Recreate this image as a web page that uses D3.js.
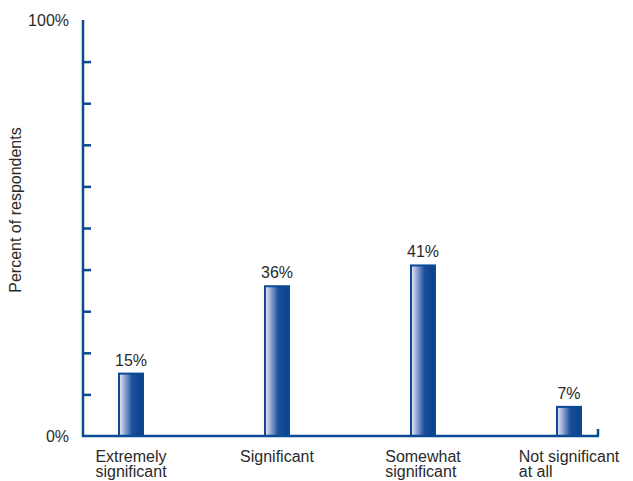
<!DOCTYPE html>
<html>
<head>
<meta charset="utf-8">
<script src="https://cdn.jsdelivr.net/npm/d3@7"></script>
<style>
  html, body { margin: 0; padding: 0; background: #fff; }
  svg { display: block; font-family: "Liberation Sans", Arial, sans-serif; }
</style>
</head>
<body>
<svg id="chart" width="633" height="481"></svg>
<script>
const categories = ["Extremely significant", "Significant", "Somewhat significant", "Not significant at all"];
const categoryLines = [["Extremely", "significant"], ["Significant"], ["Somewhat", "significant"], ["Not significant", "at all"]];
const values = [15, 36, 41, 7];
const yTicks = [0, 10, 20, 30, 40, 50, 60, 70, 80, 90, 100];
const yTickLabels = { 0: "0%", 100: "100%" };

const svg = d3.select("#chart");
const W = 633;
const axisColor = "#0b4a94";
const textColor = "#2a2a2a";

const x = d3.scaleBand().domain(categories).range([58, 642]).padding(0);
const y = d3.scaleLinear().domain([0, 100]).range([436, 20]);
const axisX = 83, axisRight = 598, barW = 25;

// gradient
const defs = svg.append("defs");
const grad = defs.append("linearGradient").attr("id", "barGrad")
  .attr("x1", "0%").attr("x2", "100%").attr("y1", "0%").attr("y2", "0%");
grad.append("stop").attr("offset", "0%").attr("stop-color", "#eceef8");
grad.append("stop").attr("offset", "15%").attr("stop-color", "#b9c0e0");
grad.append("stop").attr("offset", "55%").attr("stop-color", "#1a4f9a");
grad.append("stop").attr("offset", "100%").attr("stop-color", "#0b3f8c");

// y axis
const yAxis = d3.axisRight(y).tickValues(yTicks).tickSize(8).tickFormat("");
const gy = svg.append("g").attr("transform", `translate(${axisX},0)`).call(yAxis);
gy.select(".domain").remove();
gy.selectAll(".tick line").attr("stroke", axisColor).attr("stroke-width", 2.5)
  .filter(d => d === 0 || d === 100).remove();
svg.append("line").attr("x1", axisX).attr("x2", axisX).attr("y1", y(100)).attr("y2", y(0) + 1)
  .attr("stroke", axisColor).attr("stroke-width", 2.5);

// y tick labels
svg.selectAll(".ylab").data(Object.keys(yTickLabels).map(Number)).enter().append("text")
  .attr("x", 69).attr("y", d => y(d) + 6)
  .attr("text-anchor", "end").attr("font-size", 16).attr("fill", textColor)
  .text(d => yTickLabels[d]);

// y title
svg.append("text").attr("transform", `translate(21,210) rotate(-90)`)
  .attr("text-anchor", "middle").attr("font-size", 16).attr("fill", textColor)
  .text("Percent of respondents");

// bars
svg.selectAll(".bar").data(values).enter().append("rect")
  .attr("x", (d, i) => x(categories[i]) + x.bandwidth() / 2 - barW / 2 + 0.5)
  .attr("y", d => y(d))
  .attr("width", barW - 1)
  .attr("height", d => y(0) - y(d))
  .attr("fill", "url(#barGrad)")
  .attr("stroke", axisColor).attr("stroke-width", 2);

// x axis
svg.append("line").attr("x1", axisX - 1).attr("x2", axisRight + 1).attr("y1", y(0)).attr("y2", y(0))
  .attr("stroke", axisColor).attr("stroke-width", 2.5);
svg.append("line").attr("x1", axisRight).attr("x2", axisRight).attr("y1", y(0)).attr("y2", y(0) - 7)
  .attr("stroke", axisColor).attr("stroke-width", 2.5);

// value labels
svg.selectAll(".vlab").data(values).enter().append("text")
  .attr("x", (d, i) => x(categories[i]) + x.bandwidth() / 2)
  .attr("y", d => y(d) - 8)
  .attr("text-anchor", "middle").attr("font-size", 16).attr("fill", textColor)
  .text(d => d + "%");

// category labels
categories.forEach((c, i) => {
  const cx = x(c) + x.bandwidth() / 2;
  const t = svg.append("text").attr("font-size", 16).attr("fill", textColor);
  let w = 0;
  categoryLines[i].forEach((ln, j) => {
    const ts = t.append("tspan").attr("x", 0).attr("y", 462 + j * 15).text(ln);
    w = Math.max(w, ts.node().getComputedTextLength());
  });
  const start = Math.min(cx - w / 2, W - 4 - w);
  t.selectAll("tspan").attr("x", start);
});
</script>
</body>
</html>
